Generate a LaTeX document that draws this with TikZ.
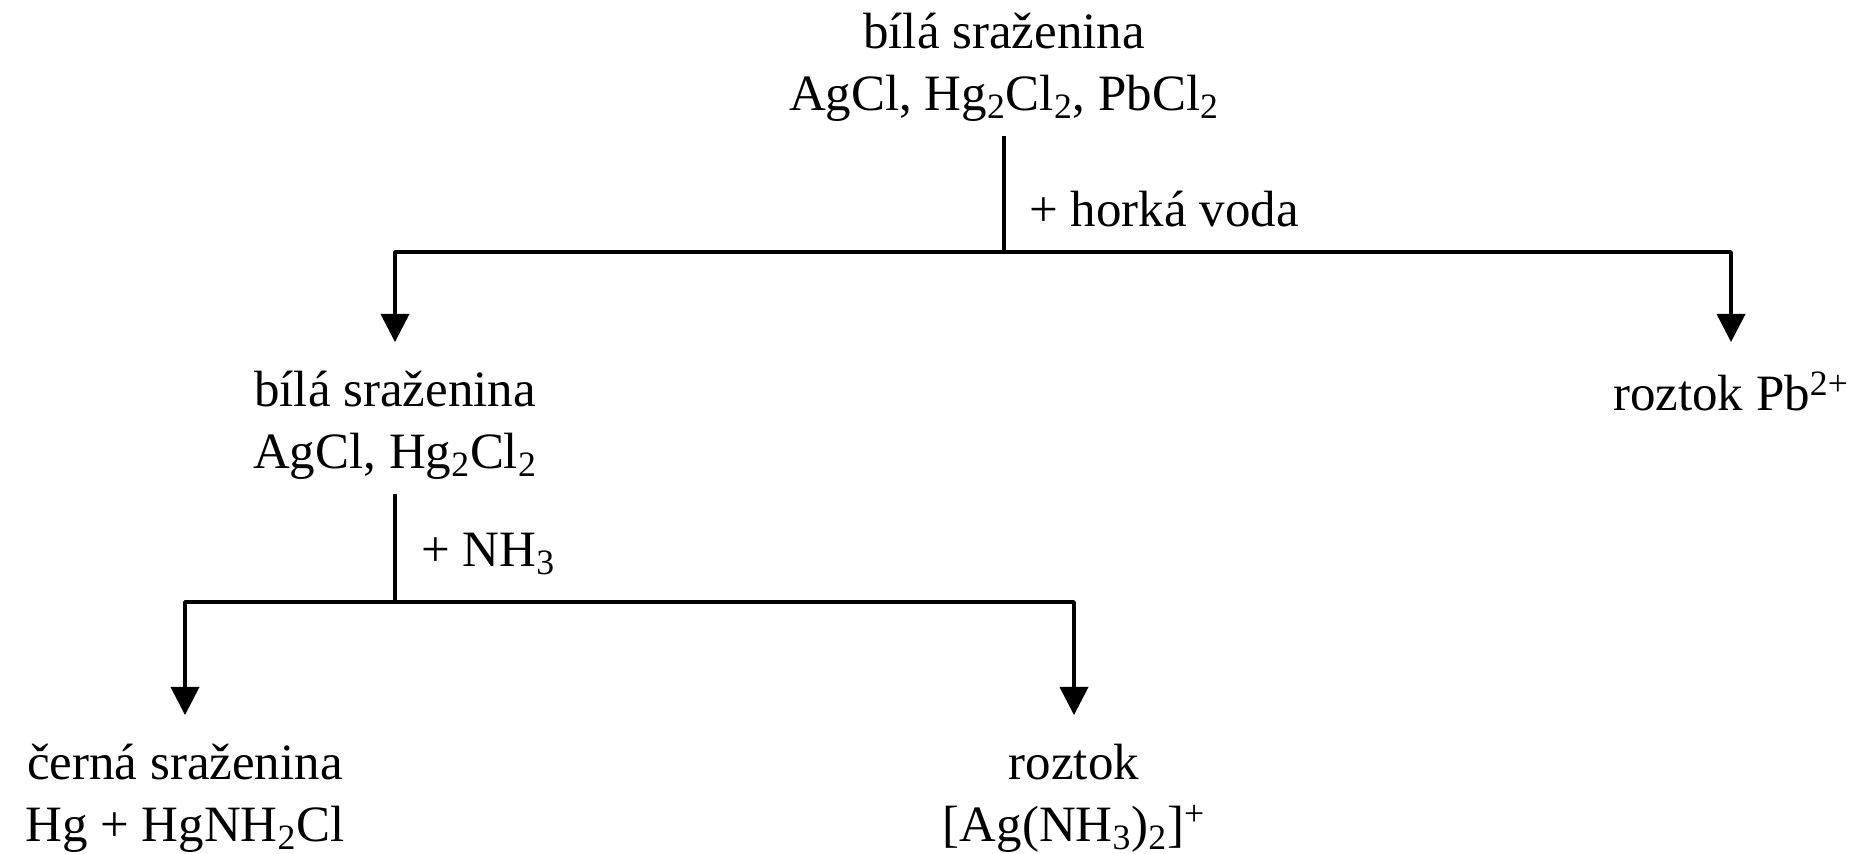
\documentclass[tikz,border=0pt]{standalone}
\usepackage{fontspec}
\setmainfont{Liberation Serif}
\usetikzlibrary{arrows.meta}

\begin{document}
\begin{tikzpicture}[x=0.02cm,y=-0.02cm]
\tikzstyle{txt}=[align=center, inner xsep=0pt, inner ysep=8pt, font=\fontsize{29}{35}\selectfont]
\tikzstyle{lbl}=[inner sep=0pt, anchor=base west, font=\fontsize{29}{35}\selectfont]
\tikzstyle{ln}=[line width=1.8pt, line join=round]
\tikzstyle{arr}=[ln, line width=2pt, -{Triangle[length=16pt,width=16pt]}, shorten >=8.5pt]
\useasboundingbox (0,0) rectangle (1858,854);
% precipitates and solutions
\node (top) [txt, anchor=north] at (1004,-1) {bílá sraženina\\AgCl, Hg\textsubscript{2}Cl\textsubscript{2}, PbCl\textsubscript{2}};
\node (mid) [txt, anchor=north] at (395,357) {bílá sraženina\\AgCl, Hg\textsubscript{2}Cl\textsubscript{2}};
\node (pb) [txt, anchor=north] at (1731,357) {roztok Pb\textsuperscript{2+}};
\node (blk) [txt, anchor=north] at (185,730) {černá sraženina\\Hg + HgNH\textsubscript{2}Cl};
\node (ag) [txt, anchor=north] at (1074,730) {roztok\\{}[Ag(NH\textsubscript{3})\textsubscript{2}]\textsuperscript{+}};
% reagents
\node (hv) [lbl] at (1029,227) {+ horká voda};
\node (nh) [lbl] at (421,566) {+ NH\textsubscript{3}};
\coordinate (j1) at (1004,252);
\coordinate (j2) at (395,602);
\draw[ln] (top) -- (j1);
\draw[arr] (j1) -| (mid);
\draw[arr] (j1) -| (pb);
\draw[ln] (mid) -- (j2);
\draw[arr] (j2) -| (blk);
\draw[arr] (j2) -| (ag);
\end{tikzpicture}
\end{document}
